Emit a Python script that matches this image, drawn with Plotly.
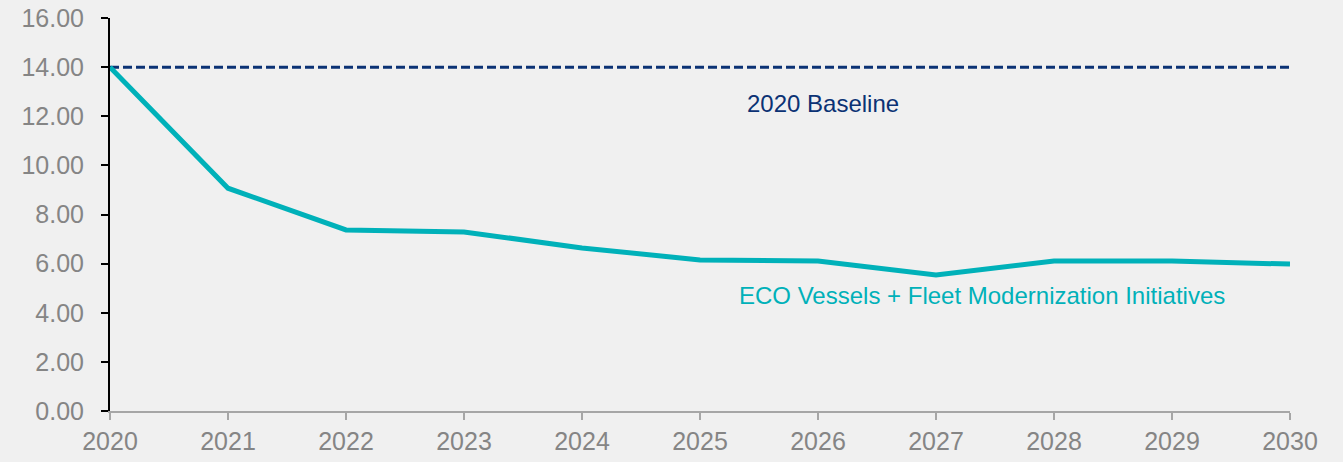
import plotly.graph_objects as go

years = [2020, 2021, 2022, 2023, 2024, 2025, 2026, 2027, 2028, 2029, 2030]
eco_values = [14.0, 9.07, 7.37, 7.29, 6.64, 6.15, 6.11, 5.54, 6.11, 6.11, 5.98]
baseline_values = [14.0] * len(years)
y_ticks = [0, 2, 4, 6, 8, 10, 12, 14, 16]
y_tick_labels = ["0.00", "2.00", "4.00", "6.00", "8.00", "10.00", "12.00", "14.00", "16.00"]

fig = go.Figure()
fig.add_trace(go.Scatter(x=years, y=baseline_values, mode="lines",
                         line=dict(color="#0b3274", width=3, dash="9px,4px"),
                         hoverinfo="skip", showlegend=False))
fig.add_trace(go.Scatter(x=years, y=eco_values, mode="lines",
                         line=dict(color="#00b1b9", width=5),
                         showlegend=False))

fig.add_annotation(x=2026.04, y=12.5, text="2020 Baseline", showarrow=False,
                   font=dict(color="#0b3274", size=24), xanchor="center", yanchor="middle")
fig.add_annotation(x=2027.39, y=4.72, text="ECO Vessels + Fleet Modernization Initiatives",
                   showarrow=False, font=dict(color="#00b1b9", size=24),
                   xanchor="center", yanchor="middle")

fig.update_layout(
    width=1343, height=462,
    margin=dict(l=110, r=53, t=18, b=51, autoexpand=False),
    paper_bgcolor="#f0f0f0", plot_bgcolor="#f0f0f0",
    font=dict(family="Liberation Sans, Arial, sans-serif", color="#858585", size=24),
)
fig.update_xaxes(range=[2020, 2030], tickmode="array", tickvals=years,
                 showgrid=False, zeroline=False, showline=True, linecolor="#a6a6a6",
                 linewidth=2, ticks="outside", tickcolor="#a6a6a6", ticklen=7, tickwidth=2,
                 tickfont=dict(size=25, color="#858585"), automargin=False)
fig.update_yaxes(range=[0, 16], tickmode="array", tickvals=y_ticks, ticktext=y_tick_labels,
                 showgrid=False, zeroline=False, showline=True, linecolor="#000000",
                 linewidth=2, ticks="outside", tickcolor="#000000", ticklen=7, tickwidth=2,
                 ticklabelstandoff=12,
                 tickfont=dict(size=25, color="#858585"), automargin=False)

fig.write_html("out.html", config={"displayModeBar": False},
               post_script="document.body.style.margin='0';document.body.style.overflow='hidden';")
